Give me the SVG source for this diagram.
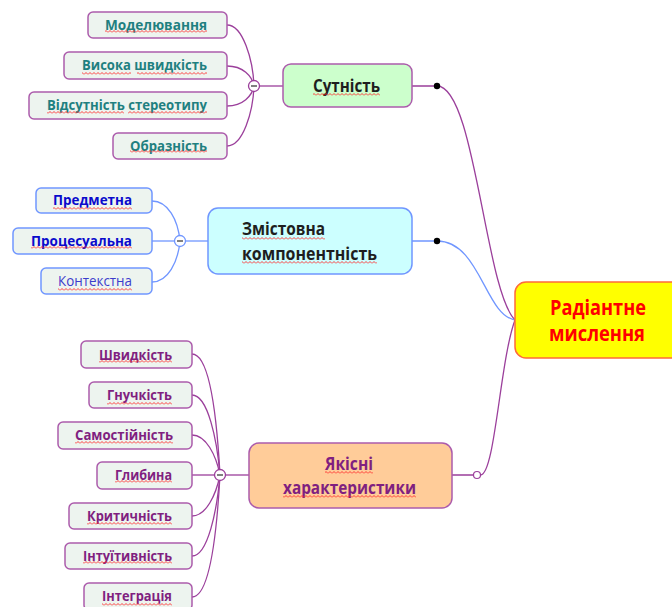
<svg xmlns="http://www.w3.org/2000/svg" width="672" height="607" viewBox="0 0 672 607">
<defs>
<pattern id="wave" patternUnits="userSpaceOnUse" width="4" height="3">
<path d="M0,2.5 L2,0.5 L4,2.5" fill="none" stroke="#ff2a2a" stroke-width="0.9"/>
</pattern>
</defs>
<style>
text{font-family:"Open Sans","Noto Sans","Liberation Sans",sans-serif;font-weight:bold}
.ch{font-size:14px;text-anchor:start}
.mn{font-size:18px}
.sq{fill:url(#wave)}
.cp{fill:none;stroke:#9b3f9b;stroke-width:1.3}
.cb{fill:none;stroke:#7096ff;stroke-width:1.3}
.boxp{fill:#edf4ef;stroke:#ac5cac;stroke-width:1.5}
.boxb{fill:#edf4ef;stroke:#7096ff;stroke-width:1.5}
.col{fill:#fff;stroke-width:1.3}
.minus{fill:#808080}
.teal{fill:#1f8080}
.blue{fill:#0a0acc}
.purp{fill:#801f80}
</style>

<g id="connectors">
<path class="cp" d="M412,86 L437,86 C475,86 485,290 515,320"/>
<path class="cb" d="M412,241 L437,241 C480,241 485,315 515,320"/>
<path class="cp" d="M452,475 L473.5,475 M480.5,475 C495,475 500,360 515,320"/>
<circle cx="437" cy="86" r="3.2" fill="#000"/>
<circle cx="437" cy="241" r="3.2" fill="#000"/>
<circle cx="477" cy="475" r="3.5" fill="#fff" stroke="#9b3f9b" stroke-width="1.2"/>
<path class="cp" d="M254,86 L283,86"/>
<path class="cp" d="M227,25 C243,25 253,60 254,86"/>
<path class="cp" d="M227,66 C243,66 252,76 254,86"/>
<path class="cp" d="M227,106 C243,106 252,96 254,86"/>
<path class="cp" d="M227,146 C243,146 253,112 254,86"/>
<circle class="col" cx="254" cy="86" r="5.5" stroke="#9b3f9b"/>
<rect class="minus" x="251" y="85" width="6" height="2"/>
<path class="cb" d="M180,241 L208,241"/>
<path class="cb" d="M152,201 C168,201 178,220 180,241"/>
<path class="cb" d="M152,241 L180,241"/>
<path class="cb" d="M152,282 C168,282 178,262 180,241"/>
<circle class="col" cx="180" cy="241" r="5.5" stroke="#7096ff"/>
<rect class="minus" x="177" y="240" width="6" height="2"/>
<path class="cp" d="M220,475 L249,475"/>
<path class="cp" d="M192,354 C210,354 217,420 220,475"/>
<path class="cp" d="M192,395 C208,395 217,440 220,475"/>
<path class="cp" d="M192,435 C206,435 216,455 220,475"/>
<path class="cp" d="M192,475 L220,475"/>
<path class="cp" d="M192,516 C206,516 216,495 220,475"/>
<path class="cp" d="M192,556 C208,556 217,510 220,475"/>
<path class="cp" d="M192,597 C210,597 217,530 220,475"/>
<circle class="col" cx="220" cy="475" r="5.5" stroke="#9b3f9b"/>
<rect class="minus" x="217" y="474" width="6" height="2"/>
</g>

<g id="central">
<rect x="515" y="282" width="170" height="76" rx="11" fill="#ffff00" stroke="#ff6a3a" stroke-width="1.5"/>
<text x="550" y="315" font-size="21" fill="#ff0000" textLength="96" lengthAdjust="spacingAndGlyphs">Радіантне</text>
<text x="549" y="341" font-size="21" fill="#ff0000" textLength="96" lengthAdjust="spacingAndGlyphs">мислення</text>
</g>

<g id="sutnist">
<rect x="283" y="64" width="129" height="43" rx="8" fill="#ccffcc" stroke="#ac5cac" stroke-width="1.5"/>
<text class="mn" x="313" y="92" fill="#1e1e1e" textLength="67" lengthAdjust="spacingAndGlyphs">Сутність</text>
<rect class="sq" x="313" y="93" width="67" height="3"/>
</g>

<g id="zmistovna">
<rect x="208" y="208" width="204" height="66" rx="10" fill="#ccffff" stroke="#7096ff" stroke-width="1.5"/>
<text class="mn" x="242" y="235" fill="#1e1e1e" textLength="83" lengthAdjust="spacingAndGlyphs">Змістовна</text>
<text class="mn" x="242" y="260" fill="#1e1e1e" textLength="135" lengthAdjust="spacingAndGlyphs">компонентність</text>
<rect class="sq" x="242" y="237" width="83" height="3"/>
<rect class="sq" x="242" y="261" width="135" height="3"/>
</g>

<g id="yakisni">
<rect x="249" y="443" width="203" height="65" rx="10" fill="#ffcc99" stroke="#ac5cac" stroke-width="1.5"/>
<text class="mn purp" x="325" y="470" textLength="48" lengthAdjust="spacingAndGlyphs">Якісні</text>
<text class="mn purp" x="283" y="494" textLength="133" lengthAdjust="spacingAndGlyphs">характеристики</text>
<rect class="sq" x="325" y="471" width="48" height="3"/>
<rect class="sq" x="283" y="495" width="133" height="3"/>
</g>

<g id="modeliuvannia">
<rect class="boxp" x="88" y="12" width="139" height="26" rx="5"/>
<text class="ch teal" x="105" y="30" textLength="102" lengthAdjust="spacingAndGlyphs">Моделювання</text>
<rect class="sq" x="105" y="30" width="102" height="3"/>
</g>
<g id="vysoka">
<rect class="boxp" x="64" y="52" width="163" height="27" rx="5"/>
<text class="ch teal" x="82" y="70" textLength="125" lengthAdjust="spacingAndGlyphs">Висока швидкість</text>
<rect class="sq" x="82" y="72" width="49" height="3"/>
<rect class="sq" x="137" y="72" width="70" height="3"/>
</g>
<g id="vidsutnist">
<rect class="boxp" x="29" y="92" width="198" height="27" rx="5"/>
<text class="ch teal" x="47" y="110" textLength="160" lengthAdjust="spacingAndGlyphs">Відсутність стереотипу</text>
<rect class="sq" x="47" y="111" width="77" height="3"/>
<rect class="sq" x="128" y="111" width="79" height="3"/>
</g>
<g id="obraznist">
<rect class="boxp" x="113" y="133" width="114" height="26" rx="5"/>
<text class="ch teal" x="130" y="150.5" textLength="77" lengthAdjust="spacingAndGlyphs">Образність</text>
<rect class="sq" x="130" y="150" width="77" height="3"/>
</g>

<g id="predmetna">
<rect class="boxb" x="36" y="188" width="116" height="25" rx="5"/>
<text class="ch blue" x="53" y="205" textLength="79" lengthAdjust="spacingAndGlyphs">Предметна</text>
<rect class="sq" x="53" y="207" width="79" height="3"/>
</g>
<g id="protsesualna">
<rect class="boxb" x="13" y="228" width="139" height="26" rx="5"/>
<text class="ch blue" x="31" y="245.5" textLength="101" lengthAdjust="spacingAndGlyphs">Процесуальна</text>
<rect class="sq" x="31" y="246" width="101" height="3"/>
</g>
<g id="kontekstna">
<rect class="boxb" x="41" y="268" width="111" height="26" rx="5"/>
<text class="ch" x="58" y="286" fill="#3c3ccc" style="font-weight:normal" textLength="74" lengthAdjust="spacingAndGlyphs">Контекстна</text>
<rect class="sq" x="58" y="288" width="74" height="3"/>
</g>

<g id="shvydkist">
<rect class="boxp" x="81" y="341" width="111" height="27" rx="5"/>
<text class="ch purp" x="99" y="359.5" textLength="73" lengthAdjust="spacingAndGlyphs">Швидкість</text>
<rect class="sq" x="99" y="360" width="73" height="3"/>
</g>
<g id="hnuchkist">
<rect class="boxp" x="89" y="382" width="103" height="26" rx="5"/>
<text class="ch purp" x="107" y="400" textLength="65" lengthAdjust="spacingAndGlyphs">Гнучкість</text>
<rect class="sq" x="107" y="402" width="65" height="3"/>
</g>
<g id="samostiinist">
<rect class="boxp" x="58" y="422" width="134" height="27" rx="5"/>
<text class="ch purp" x="75" y="440" textLength="98" lengthAdjust="spacingAndGlyphs">Самостійність</text>
<rect class="sq" x="75" y="441" width="98" height="3"/>
</g>
<g id="hlybyna">
<rect class="boxp" x="97" y="462" width="95" height="27" rx="5"/>
<text class="ch purp" x="115" y="480" textLength="57" lengthAdjust="spacingAndGlyphs">Глибина</text>
<rect class="sq" x="115" y="480" width="57" height="3"/>
</g>
<g id="krytychnist">
<rect class="boxp" x="69" y="503" width="123" height="26" rx="5"/>
<text class="ch purp" x="87" y="521" textLength="85" lengthAdjust="spacingAndGlyphs">Критичність</text>
<rect class="sq" x="87" y="522" width="85" height="3"/>
</g>
<g id="intuityvnist">
<rect class="boxp" x="65" y="543" width="127" height="26" rx="5"/>
<text class="ch purp" x="83" y="561" textLength="89" lengthAdjust="spacingAndGlyphs">Інтуїтивність</text>
<rect class="sq" x="83" y="561" width="89" height="3"/>
</g>
<g id="intehratsiia">
<rect class="boxp" x="84" y="583" width="108" height="27" rx="5"/>
<text class="ch purp" x="102" y="601" textLength="70" lengthAdjust="spacingAndGlyphs">Інтеграція</text>
<rect class="sq" x="102" y="603" width="70" height="3"/>
</g>
</svg>
